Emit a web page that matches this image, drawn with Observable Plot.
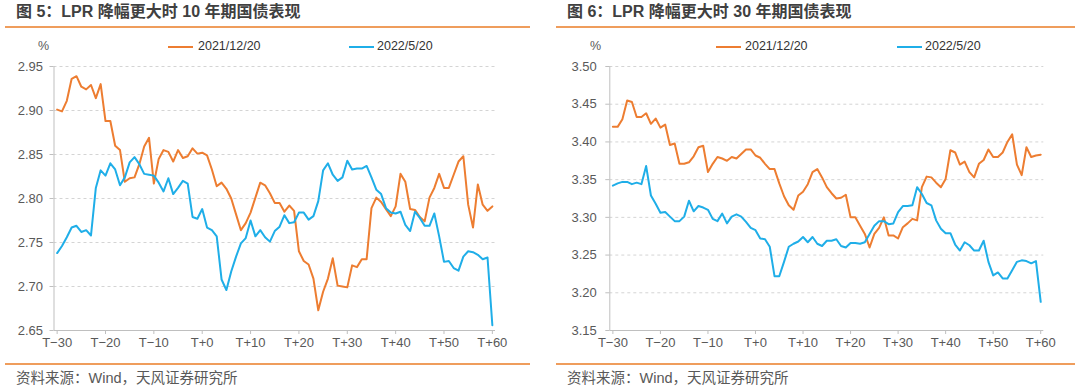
<!DOCTYPE html>
<html><head><meta charset="utf-8">
<script src="https://cdn.jsdelivr.net/npm/d3@7"></script>
<script src="https://cdn.jsdelivr.net/npm/@observablehq/plot@0.6"></script>
<style>
html,body{margin:0;padding:0;background:#fff;}
#root{position:relative;width:1080px;height:392px;overflow:hidden;font-family:"Liberation Sans",Arial,"Noto Sans CJK SC",sans-serif;}
.title{position:absolute;top:2px;font-size:16px;font-weight:bold;color:#404040;white-space:nowrap;line-height:20px;font-family:"Liberation Sans","Noto Sans CJK SC",sans-serif;}
.rule{position:absolute;height:1.5px;background:#EF9D5C;}
.src{position:absolute;top:369px;font-size:14.5px;color:#595959;white-space:nowrap;line-height:18px;font-family:"Liberation Sans","Noto Sans CJK SC",sans-serif;}
.legline{position:absolute;top:46px;height:2px;width:25px;}
.legtext{position:absolute;top:39px;font-size:12.5px;color:#333;line-height:14px;white-space:nowrap;}
.unit{position:absolute;top:39px;font-size:12.5px;color:#595959;line-height:14px;}
.chart{position:absolute;top:56px;}
g[aria-label$="-axis tick"]{stroke:#bfbfbf;}
</style>
</head><body><div id="root"></div>
<script>
// ---- data ----
const titles = ["图 5：LPR 降幅更大时 10 年期国债表现", "图 6：LPR 降幅更大时 30 年期国债表现"];
const source = "资料来源：Wind，天风证券研究所";
const seriesNames = ["2021/12/20", "2022/5/20"];
const seriesColors = ["#ED7D31", "#1FAEE8"];
const unitLabel = "%";
const dayStart = -30;
const xTicks = [-30, -20, -10, 0, 10, 20, 30, 40, 50, 60];
const xTickLabels = ["T−30","T−20","T−10","T+0","T+10","T+20","T+30","T+40","T+50","T+60"];
const y10Ticks = [2.65, 2.70, 2.75, 2.80, 2.85, 2.90, 2.95];
const y30Ticks = [3.15, 3.20, 3.25, 3.30, 3.35, 3.40, 3.45, 3.50];

const bond10_20211220 = [
 2.901,2.899,2.911,2.936,2.939,2.927,2.924,2.929,2.914,2.930,
 2.888,2.888,2.860,2.855,2.819,2.823,2.824,2.839,2.859,2.869,
 2.817,2.845,2.855,2.853,2.842,2.855,2.846,2.848,2.857,2.851,
 2.852,2.849,2.833,2.814,2.818,2.811,2.800,2.782,2.764,2.772,
 2.784,2.801,2.818,2.815,2.806,2.795,2.795,2.785,2.792,2.786,
 2.740,2.729,2.725,2.709,2.673,2.694,2.709,2.732,2.701,2.700,
 2.699,2.724,2.722,2.731,2.731,2.789,2.801,2.796,2.788,2.780,
 2.791,2.828,2.819,2.788,2.787,2.779,2.774,2.801,2.812,2.828,
 2.812,2.812,2.827,2.842,2.848,2.793,2.767,2.816,2.793,2.786,
 2.791];
const bond10_20220520 = [
 2.738,2.746,2.756,2.767,2.769,2.762,2.764,2.758,2.812,2.832,
 2.826,2.840,2.833,2.815,2.824,2.841,2.847,2.839,2.828,2.827,
 2.826,2.818,2.808,2.823,2.805,2.812,2.820,2.817,2.779,2.777,
 2.788,2.767,2.764,2.757,2.708,2.696,2.717,2.734,2.749,2.755,
 2.775,2.757,2.764,2.756,2.751,2.763,2.768,2.781,2.772,2.773,
 2.784,2.784,2.776,2.780,2.797,2.832,2.840,2.827,2.820,2.824,
 2.843,2.833,2.834,2.834,2.837,2.824,2.810,2.805,2.789,2.784,
 2.783,2.785,2.770,2.763,2.785,2.778,2.769,2.769,2.783,2.757,
 2.728,2.729,2.721,2.718,2.734,2.740,2.739,2.736,2.731,2.733,
 2.656];
const bond30_20211220 = [
 3.420,3.420,3.430,3.455,3.453,3.433,3.433,3.438,3.424,3.431,
 3.419,3.423,3.396,3.398,3.371,3.371,3.373,3.381,3.393,3.395,
 3.360,3.371,3.380,3.378,3.375,3.380,3.378,3.384,3.390,3.390,
 3.382,3.379,3.371,3.364,3.364,3.345,3.328,3.316,3.310,3.329,
 3.334,3.344,3.360,3.364,3.353,3.340,3.332,3.325,3.326,3.330,
 3.300,3.300,3.289,3.278,3.260,3.278,3.286,3.300,3.276,3.276,
 3.272,3.287,3.292,3.298,3.296,3.340,3.354,3.353,3.346,3.340,
 3.351,3.389,3.386,3.370,3.374,3.360,3.353,3.371,3.376,3.390,
 3.380,3.380,3.386,3.400,3.410,3.370,3.356,3.393,3.380,3.382,
 3.383];
const bond30_20220520 = [
 3.342,3.345,3.347,3.347,3.344,3.346,3.344,3.368,3.329,3.318,
 3.306,3.307,3.301,3.295,3.295,3.301,3.322,3.308,3.315,3.313,
 3.310,3.298,3.295,3.305,3.292,3.301,3.304,3.301,3.294,3.286,
 3.283,3.272,3.271,3.261,3.222,3.222,3.241,3.261,3.265,3.268,
 3.274,3.267,3.274,3.265,3.262,3.269,3.269,3.271,3.262,3.260,
 3.266,3.266,3.265,3.267,3.278,3.289,3.295,3.295,3.291,3.292,
 3.307,3.315,3.315,3.316,3.340,3.331,3.319,3.316,3.296,3.285,
 3.279,3.279,3.264,3.256,3.267,3.263,3.256,3.256,3.269,3.241,
 3.223,3.227,3.219,3.219,3.230,3.241,3.243,3.242,3.239,3.242,
 3.188];

// ---- layout ----
const root = document.getElementById("root");
function add(cls, css, text){
  const d = document.createElement("div");
  d.className = cls;
  Object.assign(d.style, css);
  if (text != null) d.textContent = text;
  root.appendChild(d);
  return d;
}

const panels = [
  {ox: 0, series: [bond10_20211220, bond10_20220520], yTicks: y10Ticks, mL: 53.5, mR: 45, pad: 7,
   titleX: 16, ruleX: 5, ruleW: 525, unitX: 38, leg: [[168,198],[349,377]]},
  {ox: 540, series: [bond30_20211220, bond30_20220520], yTicks: y30Ticks, mL: 69.3, mR: 36.7, pad: 9,
   titleX: 27, ruleX: 16, ruleW: 519, unitX: 50, leg: [[176,205],[357,385]]}
];

panels.forEach((p, k) => {
  add("title", {left: (p.ox + p.titleX) + "px"}, titles[k]);
  add("rule", {left: (p.ox + p.ruleX) + "px", top: "26px", width: p.ruleW + "px"});
  add("rule", {left: (p.ox + p.ruleX) + "px", top: "363px", width: p.ruleW + "px"});
  add("src", {left: (p.ox + p.titleX) + "px"}, source);
  add("unit", {left: (p.ox + p.unitX) + "px"}, unitLabel);
  p.leg.forEach((lg, j) => {
    add("legline", {left: (p.ox + lg[0]) + "px", background: seriesColors[j]});
    add("legtext", {left: (p.ox + lg[1]) + "px"}, seriesNames[j]);
  });

  const yDomain = [p.yTicks[0], p.yTicks[p.yTicks.length - 1]];
  const xDomain = [-30.65, 60.65];
  const rows = (vals, j) => vals.map((v, i) => ({day: dayStart + i, v, s: seriesNames[j]}));

  const chart = Plot.plot({
    width: 540, height: 300,
    marginTop: 10, marginBottom: 26, marginLeft: p.mL, marginRight: p.mR,
    style: {background: "transparent", fontFamily: "'Liberation Sans', Arial, sans-serif", fontSize: "13px", color: "#595959", overflow: "visible"},
    x: {domain: xDomain, ticks: xTicks, tickFormat: d => xTickLabels[xTicks.indexOf(d)], tickSize: 4, tickPadding: 3, label: null},
    y: {domain: yDomain, ticks: p.yTicks, tickFormat: d3.format(".2f"), tickSize: 4, tickPadding: p.pad, label: null},
    marks: [
      Plot.ruleY(p.yTicks.slice(1), {stroke: "#d4d4d4", strokeDasharray: "3,3"}),
      Plot.ruleY([yDomain[0]], {stroke: "#bfbfbf"}),
      Plot.ruleX([xDomain[0]], {stroke: "#bfbfbf"}),
      Plot.line(rows(p.series[0], 0), {x: "day", y: "v", stroke: seriesColors[0], strokeWidth: 2}),
      Plot.line(rows(p.series[1], 1), {x: "day", y: "v", stroke: seriesColors[1], strokeWidth: 2})
    ]
  });
  const wrap = add("chart", {left: p.ox + "px"});
  wrap.appendChild(chart);
});
</script>
</body></html>
